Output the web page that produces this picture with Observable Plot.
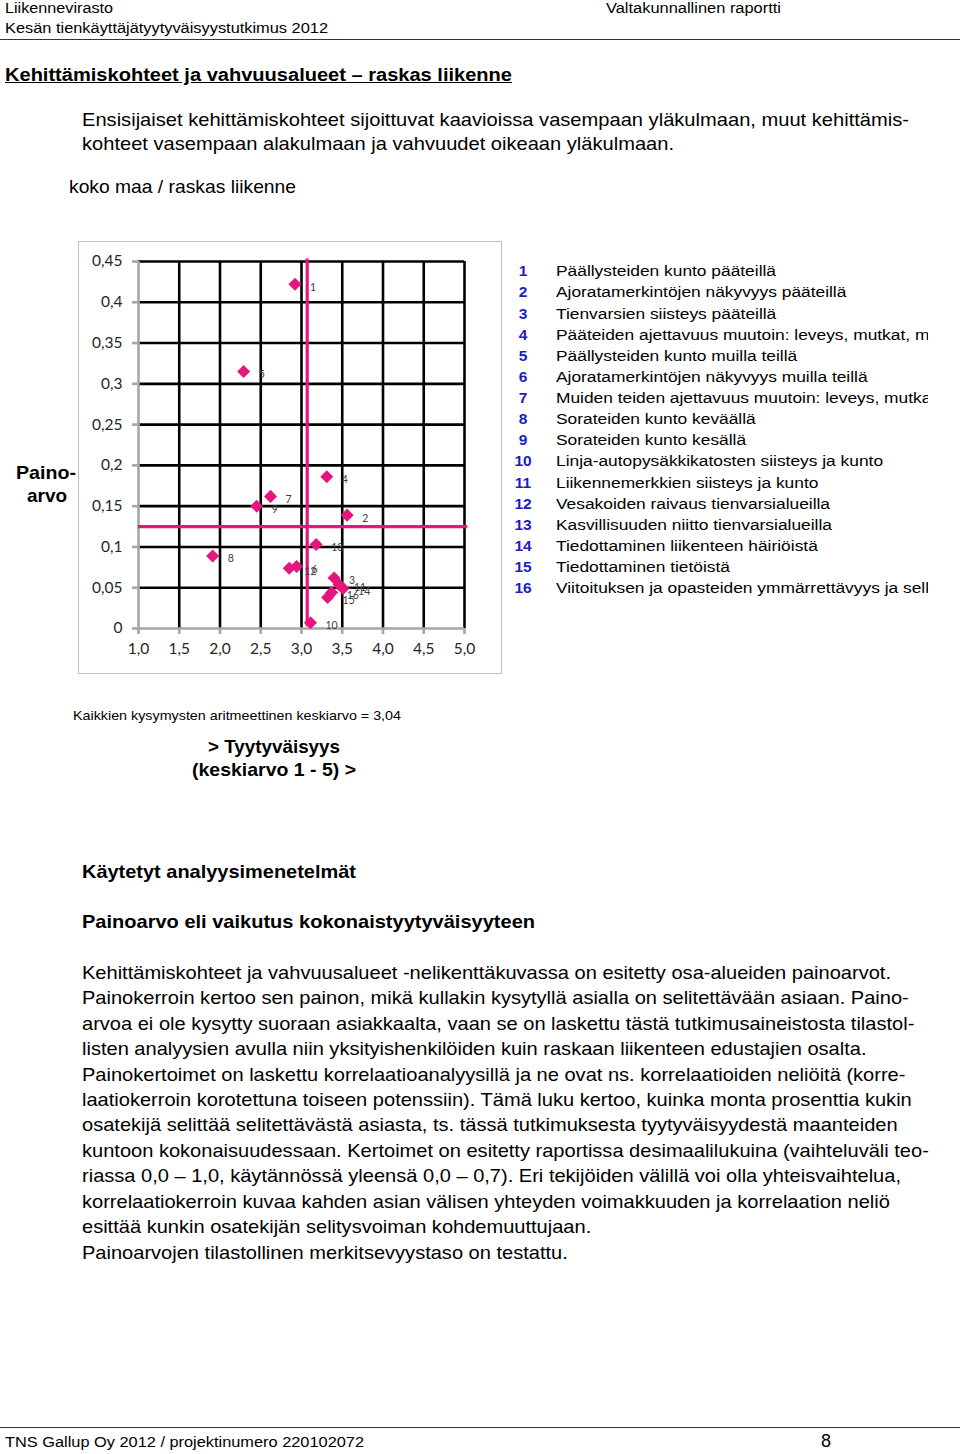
<!DOCTYPE html>
<html>
<head>
<meta charset="utf-8">
<script src="https://cdn.jsdelivr.net/npm/d3@7"></script>
<script src="https://cdn.jsdelivr.net/npm/@observablehq/plot@0.6"></script>
<style>
  html, body { margin: 0; padding: 0; background: #fff; }
  body { width: 960px; height: 1454px; position: relative; overflow: hidden; font-family: "Liberation Sans", Arial, sans-serif; color: #000; }
  .t { position: absolute; white-space: nowrap; line-height: 1; transform-origin: 0 0; }
  .rule { position: absolute; left: 0; width: 960px; height: 0; border-top: 1.3px solid #333; }
  #chartbox { position: absolute; left: 78px; top: 241px; width: 422px; height: 431px; border: 1.5px solid #bfbfbf; background: #fff; }
  #chartbox svg { position: absolute; left: 0; top: 0; }
  #legend { position: absolute; left: 505px; top: 259px; width: 423px; height: 345px; overflow: hidden; }
  .num { position: absolute; left: 0; width: 36px; text-align: center; font-weight: bold; color: #1d1dc4; font-size: 15.5px; line-height: 1; }
  .lab { position: absolute; left: 51px; white-space: nowrap; font-size: 15.5px; line-height: 1; transform-origin: 0 0; }
</style>
</head>
<body>
<script>
// ---------- data ----------
const ids = [1, 2, 3, 4, 5, 6, 7, 8, 9, 10, 11, 12, 13, 14, 15, 16];
const satisfaction = [2.92, 3.56, 3.40, 3.31, 2.29, 2.94, 2.62, 1.91, 2.45, 3.11, 3.46, 2.85, 3.18, 3.51, 3.32, 3.37];
const weight = [0.422, 0.139, 0.062, 0.186, 0.315, 0.076, 0.162, 0.089, 0.150, 0.007, 0.054, 0.074, 0.103, 0.049, 0.038, 0.044];
const legendLabels = [
  "Päällysteiden kunto pääteillä",
  "Ajoratamerkintöjen näkyvyys pääteillä",
  "Tienvarsien siisteys pääteillä",
  "Pääteiden ajettavuus muutoin: leveys, mutkat, mäet",
  "Päällysteiden kunto muilla teillä",
  "Ajoratamerkintöjen näkyvyys muilla teillä",
  "Muiden teiden ajettavuus muutoin: leveys, mutkat, mäet",
  "Sorateiden kunto keväällä",
  "Sorateiden kunto kesällä",
  "Linja-autopysäkkikatosten siisteys ja kunto",
  "Liikennemerkkien siisteys ja kunto",
  "Vesakoiden raivaus tienvarsialueilla",
  "Kasvillisuuden niitto tienvarsialueilla",
  "Tiedottaminen liikenteen häiriöistä",
  "Tiedottaminen tietöistä",
  "Viitoituksen ja opasteiden ymmärrettävyys ja selkeys"
];
const xTicks = [1.0, 1.5, 2.0, 2.5, 3.0, 3.5, 4.0, 4.5, 5.0];
const xTickLabels = ["1,0", "1,5", "2,0", "2,5", "3,0", "3,5", "4,0", "4,5", "5,0"];
const yTicks = [0, 0.05, 0.1, 0.15, 0.2, 0.25, 0.3, 0.35, 0.4, 0.45];
const yTickLabels = ["0", "0,05", "0,1", "0,15", "0,2", "0,25", "0,3", "0,35", "0,4", "0,45"];
const meanSatisfactionLine = 3.07;
const meanWeightLine = 0.125;

const bodyLines = [
  "Kehittämiskohteet ja vahvuusalueet -nelikenttäkuvassa on esitetty osa-alueiden painoarvot.",
  "Painokerroin kertoo sen painon, mikä kullakin kysytyllä asialla on selitettävään asiaan. Paino-",
  "arvoa ei ole kysytty suoraan asiakkaalta, vaan se on laskettu tästä tutkimusaineistosta tilastol-",
  "listen analyysien avulla niin yksityishenkilöiden kuin raskaan liikenteen edustajien osalta.",
  "Painokertoimet on laskettu korrelaatioanalyysillä ja ne ovat ns. korrelaatioiden neliöitä (korre-",
  "laatiokerroin korotettuna toiseen potenssiin). Tämä luku kertoo, kuinka monta prosenttia kukin",
  "osatekijä selittää selitettävästä asiasta, ts. tässä tutkimuksesta tyytyväisyydestä maanteiden",
  "kuntoon kokonaisuudessaan. Kertoimet on esitetty raportissa desimaalilukuina (vaihteluväli teo-",
  "riassa 0,0 – 1,0, käytännössä yleensä 0,0 – 0,7).  Eri tekijöiden välillä voi olla yhteisvaihtelua,",
  "korrelaatiokerroin kuvaa kahden asian välisen yhteyden voimakkuuden ja korrelaation neliö",
  "esittää kunkin osatekijän selitysvoiman kohdemuuttujaan.",
  "Painoarvojen tilastollinen merkitsevyystaso on testattu."
];

// ---------- helpers ----------
function addText(txt, left, cy, fs, opts = {}) {
  const d = document.createElement("div");
  d.className = "t";
  d.textContent = txt;
  d.style.left = left + "px";
  d.style.top = (cy - fs * 0.5) + "px";
  d.style.fontSize = fs + "px";
  if (opts.bold) d.style.fontWeight = "bold";
  if (opts.underline) d.style.textDecoration = "underline";
  if (opts.color) d.style.color = opts.color;
  document.body.appendChild(d);
  if (opts.w) fitTo(d, opts.w);
  return d;
}
function fitTo(el, w) {
  const r = el.getBoundingClientRect().width;
  const s = w / r;
  el.style.transform = `scaleX(${s})`;
  return s;
}

// ---------- header ----------
addText("Liikennevirasto", 5, 8, 15.5, {w: 108});
addText("Kesän tienkäyttäjätyytyväisyystutkimus 2012", 5, 27.5, 15.5, {w: 323});
addText("Valtakunnallinen raportti", 606, 8, 15.5, {w: 175});
const r1 = document.createElement("div"); r1.className = "rule"; r1.style.top = "39px"; document.body.appendChild(r1);

addText("Kehittämiskohteet ja vahvuusalueet – raskas liikenne", 5, 75, 18, {bold: true, underline: true, w: 507});
addText("Ensisijaiset kehittämiskohteet sijoittuvat kaavioissa vasempaan yläkulmaan, muut kehittämis-", 82, 120.5, 18.5, {w: 827});
addText("kohteet vasempaan alakulmaan ja vahvuudet oikeaan yläkulmaan.", 82, 144, 18.5, {w: 592});
addText("koko maa / raskas liikenne", 69, 187, 18.5, {w: 227});

// ---------- chart ----------
const pink = "#e5177e";
const data = ids.map((id, i) => ({id, x: satisfaction[i], y: weight[i]}));
const diamondSymbol = {
  draw(ctx, size) {
    const h = Math.sqrt(size / 2);
    ctx.moveTo(0, -h); ctx.lineTo(h, 0); ctx.lineTo(0, h); ctx.lineTo(-h, 0); ctx.closePath();
  }
};
const chart = Plot.plot({
  width: 422,
  height: 431,
  marginLeft: 59,
  marginRight: 37,
  marginTop: 19,
  marginBottom: 45,
  x: {domain: [1, 5]},
  y: {domain: [0, 0.45]},
  style: {fontFamily: "Lato, 'Open Sans', sans-serif", fontSize: "15px", color: "#262626", background: "transparent", overflow: "visible"},
  marks: [
    Plot.ruleX(xTicks.slice(1), {y1: 0, y2: 0.45, stroke: "#000", strokeWidth: 2.6}),
    Plot.ruleY(yTicks.slice(1), {x1: 1, x2: 5, stroke: "#000", strokeWidth: 2.6}),
    Plot.ruleX([xTicks[0]], {y1: 0, y2: 0.45, stroke: "#a6a6a6", strokeWidth: 2.6}),
    Plot.ruleY([yTicks[0]], {x1: 1, x2: 5, stroke: "#a6a6a6", strokeWidth: 2.6}),
    Plot.axisX({ticks: xTicks, tickFormat: d => xTickLabels[xTicks.indexOf(d)], tickSize: 6, tickPadding: 8, stroke: "#a6a6a6", strokeWidth: 2.6, label: null, fontSize: 15.5}),
    Plot.axisY({ticks: yTicks, tickFormat: d => yTickLabels[yTicks.indexOf(d)], tickSize: 6, tickPadding: 10, stroke: "#a6a6a6", strokeWidth: 2.6, label: null, fontSize: 15.5}),
    Plot.ruleX([meanSatisfactionLine], {y1: 0.002, y2: 0.453, stroke: pink, strokeWidth: 3.2}),
    Plot.ruleY([meanWeightLine], {x1: 1, x2: 5.04, stroke: pink, strokeWidth: 3.2}),
    Plot.dot(data, {x: "x", y: "y", symbol: diamondSymbol, r: 5.2, fill: pink, stroke: "none"}),
    Plot.text(data, {x: "x", y: "y", text: d => String(d.id), dx: 15, dy: 3, textAnchor: "start", fontSize: 10.5, fill: "#404040"})
  ]
});
const box = document.createElement("div");
box.id = "chartbox";
box.appendChild(chart);
document.body.appendChild(box);

addText("Paino-", 16, 472, 19, {bold: true, w: 60});
addText("arvo", 27, 495, 19, {bold: true, w: 40});

// ---------- legend ----------
const leg = document.createElement("div");
leg.id = "legend";
document.body.appendChild(leg);
let legScale = null;
legendLabels.forEach((lab, i) => {
  const cy = 271 + i * 21.13 - 259;
  const n = document.createElement("div");
  n.className = "num";
  n.textContent = ids[i];
  n.style.top = (cy - 7.75) + "px";
  leg.appendChild(n);
  const t = document.createElement("div");
  t.className = "lab";
  t.textContent = lab;
  t.style.top = (cy - 7.75) + "px";
  leg.appendChild(t);
  if (i === 0) legScale = fitTo(t, 220);
  else t.style.transform = `scaleX(${legScale})`;
});

// ---------- below chart ----------
addText("Kaikkien kysymysten aritmeettinen keskiarvo = 3,04", 73, 716, 13.5, {w: 328});
addText("> Tyytyväisyys", 208, 747, 18.5, {bold: true, w: 132});
addText("(keskiarvo 1 - 5) >", 192, 770, 18.5, {bold: true, w: 164});

addText("Käytetyt analyysimenetelmät", 82, 872, 18.5, {bold: true, w: 274});
addText("Painoarvo eli vaikutus kokonaistyytyväisyyteen", 82, 922, 18.5, {bold: true, w: 453});

let bodyScale = null;
bodyLines.forEach((line, i) => {
  const d = addText(line, 82, 973 + i * 25.45, 18.5);
  if (i === 0) bodyScale = fitTo(d, 809);
  else d.style.transform = `scaleX(${bodyScale})`;
});

// ---------- footer ----------
const r2 = document.createElement("div"); r2.className = "rule"; r2.style.top = "1427px"; document.body.appendChild(r2);
addText("TNS Gallup Oy 2012 / projektinumero 220102072", 5, 1442, 15.5, {w: 359});
addText("8", 821, 1441, 18, {w: 10});
</script>
</body>
</html>
